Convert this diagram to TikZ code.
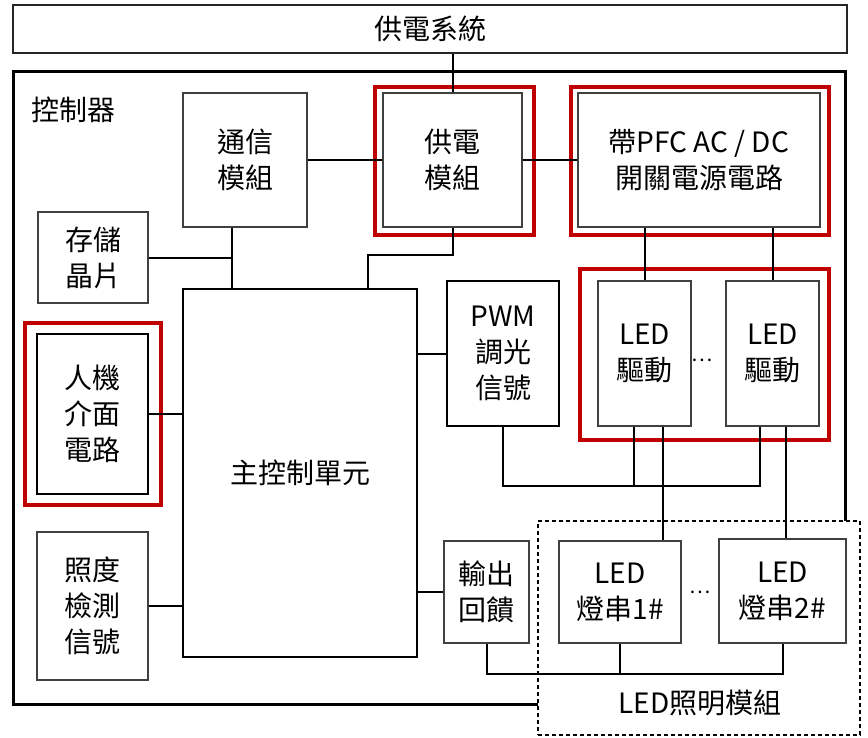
\documentclass[tikz,border=0pt]{standalone}
\usepackage{fontspec}
\setmainfont{Noto Sans CJK TC}
\usetikzlibrary{positioning,calc}
\definecolor{framered}{HTML}{C00000}
\newcommand\blocktext{\fontsize{28}{36}\selectfont}

\begin{document}
\begin{tikzpicture}[x=1pt, y=-1pt,
  blk/.style={draw=black!75, line width=1.3, fill=white, align=center, inner sep=0pt, font=\blocktext},
  redframe/.style={draw=framered, line width=4.5},
  wire/.style={line width=2}]
\useasboundingbox (0,0) rectangle (868,737);

% power supply system and controller frame
\node[blk, draw=black!85, line width=1.5, minimum width=834, minimum height=48] (sys) at (430,29) {供電系統};
\node[draw, line width=3, minimum width=832, minimum height=633] (ctrl) at (429,387.5) {};
\node[font=\blocktext] (ctrllabel) at (73,110) {控制器};

% LED lighting module
\node[draw, fill=white, line width=2, dash pattern=on 4pt off 3pt, minimum width=322, minimum height=214] (ledmod) at (699,628) {};
\node[font=\blocktext] (ledlabel) at (700,703) {LED照明模組};

% red frames
\node[redframe, minimum width=159, minimum height=148] (psuframe) at (454.5,161) {};
\node[redframe, minimum width=258, minimum height=148] (pfcframe) at (700,161) {};
\node[redframe, minimum width=249, minimum height=171] (drvframe) at (704.5,354.5) {};
\node[redframe, minimum width=136, minimum height=182] (hmiframe) at (93,414) {};

% blocks
\node[blk, minimum width=124, minimum height=134] (comm) at (245,160) {通信\\模組};
\node[blk, minimum width=139, minimum height=134] (psu) at (452.5,160) {供電\\模組};
\node[blk, minimum width=242, minimum height=134] (pfc) at (699,160) {帶PFC AC / DC\\開關電源電路};
\node[blk, minimum width=110, minimum height=91] (mem) at (93,257.5) {存儲\\晶片};
\node[blk, draw=black, line width=1.5, minimum width=234, minimum height=368] (main) at (300,473) {主控制單元};
\node[blk, draw=black, minimum width=111, minimum height=160] (hmi) at (92.5,414) {人機\\介面\\電路};
\node[blk, minimum width=111, minimum height=148] (lux) at (92.5,606) {照度\\檢測\\信號};
\node[blk, draw=black, minimum width=112, minimum height=145] (pwm) at (503,353.5) {PWM\\調光\\信號};
\node[blk, minimum width=93, minimum height=145] (drv1) at (644.5,353.5) {LED\\驅動};
\node[blk, minimum width=93, minimum height=145] (drv2) at (772.5,353.5) {LED\\驅動};
\node[font=\fontsize{20}{20}\selectfont] (dotsA) at (702,360) {…};
\node[blk, minimum width=85, minimum height=102] (fb) at (486.5,592) {輸出\\回饋};
\node[blk, minimum width=122, minimum height=102] (str1) at (620,592) {LED\\燈串1\#};
\node[blk, minimum width=127, minimum height=104] (str2) at (782.5,591) {LED\\燈串2\#};
\node[font=\fontsize{20}{20}\selectfont] (dotsB) at (700,592) {…};

% taps
\coordinate (busA) at ([xshift=-13]comm.south);
\coordinate (pwrin) at ([xshift=68]main.north);
\coordinate (dimA) at ([xshift=-11]drv1.south);
\coordinate (outA) at ([xshift=18]drv1.south);
\coordinate (dimB) at ([xshift=-13]drv2.south);
\coordinate (outB) at ([xshift=13]drv2.south);

% connections
\draw[wire] (psu.north |- sys.south) -- (psu.north);
\draw[wire] (comm.east) -- (psu.west);
\draw[wire] (psu.east) -- (pfc.west);
\draw[wire] (busA) -- (busA |- main.north);
\draw[wire] (mem.east) -- (mem.east -| busA);
\draw[wire] (psu.south) -- ++(0,27) -| (pwrin);
\draw[wire] (hmi.east) -- (hmi.east -| main.west);
\draw[wire] (lux.east) -- (lux.east -| main.west);
\draw[wire] (main.east |- pwm.west) -- (pwm.west);
\draw[wire] (main.east |- fb.west) -- (fb.west);
\draw[wire] (drv1.north |- pfc.south) -- (drv1.north);
\draw[wire] (drv2.north |- pfc.south) -- (drv2.north);
\draw[wire] (pwm.south) -- ++(0,59) coordinate (dimbus) -| (dimB);
\draw[wire] (dimA) -- (dimA |- dimbus);
\draw[wire] (outA) -- (outA |- str1.north);
\draw[wire] (outB) -- (outB |- str2.north);
\draw[wire] (fb.south) -- ++(0,30) coordinate (fbbus) -| (str2.south);
\draw[wire] (str1.south) -- (str1.south |- fbbus);
\end{tikzpicture}
\end{document}
